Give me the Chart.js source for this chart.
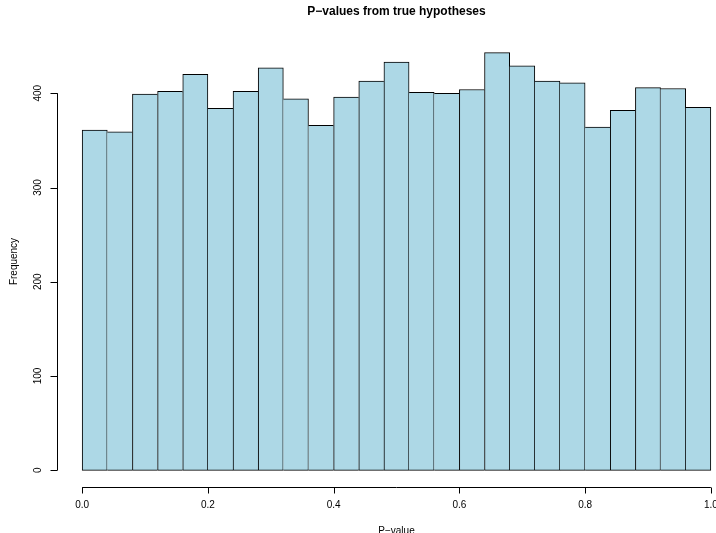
<!DOCTYPE html>
<html>
<head>
<meta charset="utf-8">
<script src="https://cdn.jsdelivr.net/npm/chart.js@4.4.0/dist/chart.umd.min.js"></script>
<style>
  html, body { margin: 0; padding: 0; background: #fff; overflow: hidden; }
  #wrap { width: 716px; height: 533px; overflow: hidden; }
</style>
</head>
<body>
<div id="wrap"><canvas id="hist" width="740" height="533"></canvas></div>
<script>
// histogram breaks (bin edges) and counts per bin
const breaks = [0.00, 0.04, 0.08, 0.12, 0.16, 0.20, 0.24, 0.28, 0.32, 0.36, 0.40, 0.44, 0.48,
                0.52, 0.56, 0.60, 0.64, 0.68, 0.72, 0.76, 0.80, 0.84, 0.88, 0.92, 0.96, 1.00];
const counts = [361, 359, 399, 402, 420, 384, 402, 427, 394, 366, 396, 413, 433,
                401, 400, 404, 443, 429, 413, 411, 364, 382, 406, 405, 385];

const xTicks = [0, 0.2, 0.4, 0.6, 0.8, 1.0];
const xTickLabels = ['0.0', '0.2', '0.4', '0.6', '0.8', '1.0'];
const yTicks = [0, 100, 200, 300, 400];
const yTickLabels = ['0', '100', '200', '300', '400'];

const titleText = 'P\u2212values from true hypotheses';
const xTitle = 'P\u2212value';
const yTitle = 'Frequency';

// bin centres for the bars
const centers = counts.map((c, i) => (breaks[i] + breaks[i + 1]) / 2);
const xMin = breaks[0], xMax = breaks[breaks.length - 1];
const yMax = Math.max(...counts);

const FONT = '"Liberation Sans", Arial, Helvetica, sans-serif';

// shared edge between two bins is drawn by the taller one, so it reaches its top
function edgeWidths(i) {
    const n = counts.length;
    return {
        top: 1,
        bottom: 1,
        left: (i === 0 || counts[i] >= counts[i - 1]) ? 1 : 0,
        right: (i === n - 1 || counts[i] > counts[i + 1]) ? 1 : 0
    };
}

// R-style axes, titles drawn on top of the chart area
const rAxes = {
    id: 'rAxes',
    afterDraw(chart) {
        const ctx = chart.ctx;
        const xs = chart.scales.x;
        const ys = chart.scales.y;
        const area = chart.chartArea;
        const midX = (area.left + area.right) / 2;
        const midY = (area.top + area.bottom) / 2;

        ctx.save();
        ctx.strokeStyle = '#000';
        ctx.fillStyle = '#000';
        ctx.lineWidth = 1;

        // x axis
        const ax = Math.round(area.bottom) + 0.5;
        ctx.beginPath();
        ctx.moveTo(xs.getPixelForValue(xTicks[0]), ax);
        ctx.lineTo(xs.getPixelForValue(xTicks[xTicks.length - 1]), ax);
        xTicks.forEach(v => {
            const px = Math.round(xs.getPixelForValue(v)) + 0.5;
            ctx.moveTo(px, ax);
            ctx.lineTo(px, ax + 6);
        });
        ctx.stroke();

        ctx.font = '10px ' + FONT;
        ctx.textAlign = 'center';
        ctx.textBaseline = 'middle';
        xTicks.forEach((v, i) => {
            ctx.fillText(xTickLabels[i], xs.getPixelForValue(v), ax + 18);
        });

        // y axis
        const ay = Math.round(area.left) + 0.5;
        ctx.beginPath();
        ctx.moveTo(ay, ys.getPixelForValue(yTicks[0]));
        ctx.lineTo(ay, ys.getPixelForValue(yTicks[yTicks.length - 1]));
        yTicks.forEach(v => {
            const py = Math.round(ys.getPixelForValue(v)) + 0.5;
            ctx.moveTo(ay, py);
            ctx.lineTo(ay - 7, py);
        });
        ctx.stroke();

        yTicks.forEach((v, i) => {
            ctx.save();
            ctx.translate(ay - 19, ys.getPixelForValue(v));
            ctx.rotate(-Math.PI / 2);
            ctx.fillText(yTickLabels[i], 0, 0);
            ctx.restore();
        });

        // axis titles
        ctx.fillText(xTitle, midX, ax + 44);
        ctx.save();
        ctx.translate(14, midY);
        ctx.rotate(-Math.PI / 2);
        ctx.fillText(yTitle, 0, 0);
        ctx.restore();

        // main title
        ctx.font = 'bold 12px ' + FONT;
        ctx.fillText(titleText, midX, 12);

        ctx.restore();
    }
};

new Chart(document.getElementById('hist'), {
    type: 'bar',
    data: {
        datasets: [{
            data: centers.map((c, i) => ({ x: c, y: counts[i] })),
            backgroundColor: '#ADD8E6',
            borderColor: '#000',
            borderWidth: ctx => edgeWidths(ctx.dataIndex),
            borderSkipped: false,
            barPercentage: 1,
            categoryPercentage: 1
        }]
    },
    options: {
        responsive: false,
        animation: false,
        devicePixelRatio: 1,
        layout: {
            padding: { left: 57, right: 4, top: 36, bottom: 46 }
        },
        scales: {
            x: {
                type: 'linear',
                display: false,
                offset: false,
                min: xMin - 0.04 * (xMax - xMin),
                max: xMax + 0.04 * (xMax - xMin)
            },
            y: {
                display: false,
                min: -0.04 * yMax,
                max: 1.04 * yMax
            }
        },
        plugins: {
            legend: { display: false },
            tooltip: { enabled: false }
        }
    },
    plugins: [rAxes]
});
</script>
</body>
</html>
